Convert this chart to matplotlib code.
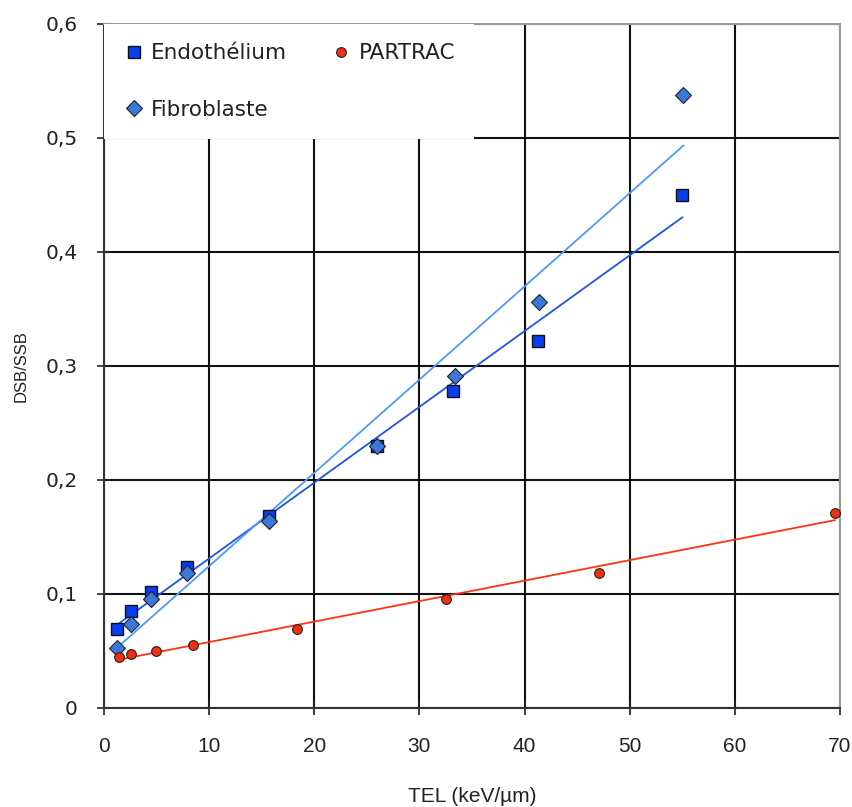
import numpy as np
import matplotlib
matplotlib.use("Agg")
import matplotlib.pyplot as plt

# data
endo_x = [1.2, 2.6, 4.5, 7.9, 15.7, 26.0, 33.2, 41.3, 55.0]
endo_y = [0.069, 0.085, 0.102, 0.124, 0.168, 0.230, 0.278, 0.322, 0.450]

fibro_x = [1.2, 2.6, 4.5, 7.9, 15.7, 26.0, 33.4, 41.4, 55.1]
fibro_y = [0.053, 0.074, 0.096, 0.118, 0.164, 0.230, 0.291, 0.356, 0.538]

partrac_x = [1.4, 2.6, 4.9, 8.5, 18.4, 32.5, 47.1, 69.5]
partrac_y = [0.045, 0.047, 0.050, 0.055, 0.069, 0.096, 0.118, 0.171]

x_ticks = [0, 10, 20, 30, 40, 50, 60, 70]
y_ticks = [0, 0.1, 0.2, 0.3, 0.4, 0.5, 0.6]
y_tick_labels = ['0', '0,1', '0,2', '0,3', '0,4', '0,5', '0,6']

fig = plt.figure(figsize=(8.53, 8.07), dpi=100)
ax = fig.add_axes([0.1219, 0.1227, 0.8629, 0.8476])


def trend(xs, ys):
    # linear trend line over the data range
    a, b = np.polyfit(xs, ys, 1)
    xx = np.array([min(xs), max(xs)])
    return xx, a * xx + b


tx, ty = trend(endo_x, endo_y)
ax.plot(tx, ty, color='#1f55e8', lw=1.3, zorder=3)
tx, ty = trend(fibro_x, fibro_y)
ax.plot(tx, ty, color='#4d9aff', lw=1.3, zorder=3)
tx, ty = trend(partrac_x, partrac_y)
ax.plot(tx, ty, color='#ff3311', lw=1.3, zorder=3)

ax.plot(endo_x, endo_y, 's', color='#0a3cf0', mec='#111111', mew=1.0,
        ms=9, ls='none', label='Endothélium', zorder=4)
ax.plot(fibro_x, fibro_y, 'D', color='#3a78dc', mec='#222222', mew=0.8,
        ms=8, ls='none', label='Fibroblaste', zorder=4)
ax.plot(partrac_x, partrac_y, 'o', color='#f03010', mec='#222222', mew=0.8,
        ms=7, ls='none', label='PARTRAC', zorder=4)

ax.set_xlim(0, 70)
ax.set_ylim(0, 0.6)
ax.set_xticks(x_ticks)
ax.set_xticklabels([str(v) for v in x_ticks], fontfamily='Liberation Sans',
                   fontsize=15)
ax.set_yticks(y_ticks)
ax.set_yticklabels(y_tick_labels, fontsize=14.5)
ax.grid(True, color='#111111', lw=1.5)
ax.set_axisbelow(True)
ax.tick_params(direction='inout', length=10, width=1.2,
               colors='#222222', pad=14)
ax.tick_params(axis='x', pad=16)
for s in ['top', 'right']:
    ax.spines[s].set_color('#999999')
    ax.spines[s].set_linewidth(1.5)
for s in ['left', 'bottom']:
    ax.spines[s].set_color('#333333')
    ax.spines[s].set_linewidth(1.5)

ax.set_xlabel('TEL (keV/µm)', fontsize=15, labelpad=22,
              fontfamily='Liberation Sans', color='#222222')
ax.set_ylabel('DSB/SSB', fontsize=12, labelpad=12,
              fontfamily='Liberation Sans', color='#222222')

leg = ax.legend(loc='upper left', ncol=2, frameon=True,
                prop={'size': 15.5}, fancybox=False, edgecolor='white',
                framealpha=1, borderaxespad=0.0, borderpad=0.9,
                handletextpad=0.3, columnspacing=2.0, labelspacing=1.7,
                handlelength=1.0)
leg.get_frame().set_linewidth(0)
for t in leg.get_texts():
    t.set_color('#222222')

fig.savefig('out.png', dpi=100)
